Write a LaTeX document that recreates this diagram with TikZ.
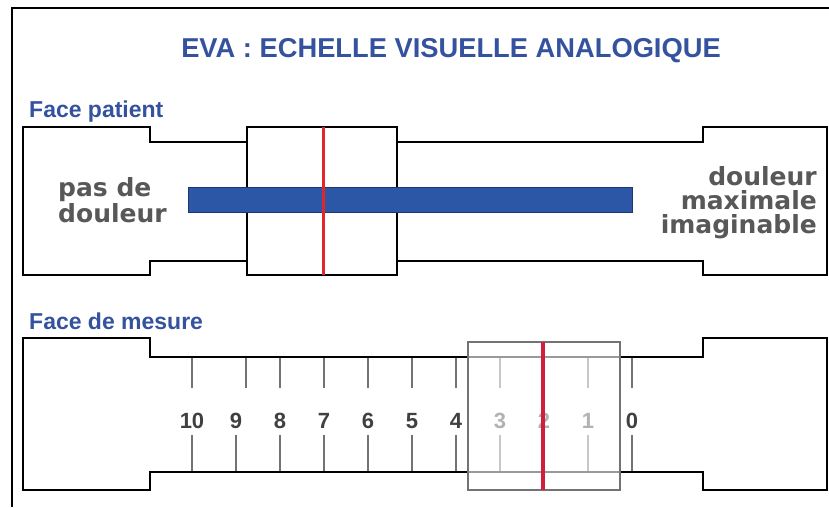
\documentclass[tikz,border=0pt]{standalone}
\usepackage{fontspec}
\setmainfont{Liberation Sans}
\newfontfamily\labelfont{DejaVu Sans}
\definecolor{evablue}{HTML}{34529E}
\definecolor{barblue}{HTML}{2C56A6}
\definecolor{cursorred}{HTML}{E3262B}
\definecolor{cursorcrimson}{HTML}{CF1F3B}
\definecolor{textgray}{HTML}{585858}
\definecolor{numgray}{HTML}{404040}

\tikzset{
  body/.style={draw=black,line width=2.5pt,fill=white},
  glass/.style={draw=black!55,line width=2pt,fill=white,fill opacity=0.6},
  bar/.style={fill=barblue,draw=barblue!65!black,line width=1pt},
  tickline/.style={black!55,line width=2pt},
  facelabel/.style={anchor=base west,text=evablue,inner sep=0pt,font=\bfseries\fontsize{23}{26}\selectfont},
  endlabel/.style={inner sep=0pt,text=textgray,font=\labelfont\bfseries\fontsize{25}{24}\selectfont},
  num/.style={anchor=base,inner sep=0pt,text=numgray,font=\bfseries\fontsize{22}{24}\selectfont}
}

\begin{document}
\begin{tikzpicture}[x=1pt,y=-1pt]
\useasboundingbox[fill=white] (0,0) rectangle (829,507);

% frame
\draw[line width=2.5pt] (12,507) -- (12,8) -- (829,8);

% title
\node[anchor=base,inner sep=0pt,text=evablue,font=\bfseries\fontsize{27.3}{30}\selectfont] (title) at (451,57) {EVA : ECHELLE VISUELLE ANALOGIQUE};

% Face patient
\node[facelabel] (patient) at (29,117) {Face patient};
\draw[body] (23,127) -| (150,142) -| (703,127) -| (827,275) -| (703,261) -| (150,275) -| (23,127) -- cycle;
\draw[body] (247,127) rectangle (397,275);
\draw[bar] (188,187) rectangle (632,212);
\draw[cursorred,line width=3pt] (323,127) -- (323,275);
\node[endlabel,anchor=base west,align=left] (nopain) at (58,222) {pas de\\douleur};
\node[endlabel,anchor=base east,align=right] (maxpain) at (817,233) {douleur\\maximale\\imaginable};

% Face de mesure
\node[facelabel] (mesure) at (29,329) {Face de mesure};
\draw[body] (23,338) -| (150,357) -| (703,338) -| (827,490) -| (703,472) -| (150,490) -| (23,338) -- cycle;
\foreach \tx in {192,246,280,324,368,412,456,500,544,588,632}
  \draw[tickline] (\tx,358) -- (\tx,388);
\foreach \i in {0,...,10} {
  \pgfmathsetmacro\tx{632-44*\i}
  \draw[tickline] (\tx,435) -- (\tx,471);
  \node[num] (n\i) at (\tx,428) {\i};
}
\draw[glass] (468,342) rectangle (620,490);
\draw[cursorcrimson,line width=3.5pt] (543,342) -- (543,490);

\end{tikzpicture}
\end{document}
